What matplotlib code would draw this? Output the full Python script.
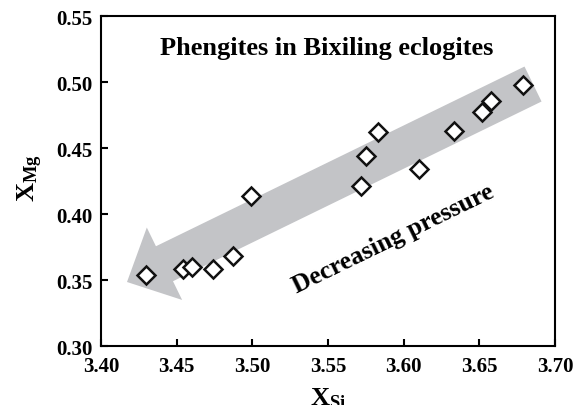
import numpy as np
import matplotlib
matplotlib.use("Agg")
import matplotlib.pyplot as plt

plt.rcParams["font.family"] = ["Liberation Serif", "DejaVu Serif"]
plt.rcParams["font.weight"] = "bold"
plt.rcParams["mathtext.fontset"] = "custom"
plt.rcParams["mathtext.rm"] = "Liberation Serif:bold"
plt.rcParams["mathtext.bf"] = "Liberation Serif:bold"

# phengite compositions
x_si = [3.430, 3.454, 3.460, 3.474, 3.487, 3.499, 3.572, 3.575, 3.583,
        3.610, 3.633, 3.652, 3.658, 3.679]
x_mg = [0.354, 0.358, 0.360, 0.358, 0.368, 0.414, 0.421, 0.444, 0.462,
        0.434, 0.463, 0.477, 0.486, 0.498]

xticks = [3.40, 3.45, 3.50, 3.55, 3.60, 3.65, 3.70]
yticks = [0.30, 0.35, 0.40, 0.45, 0.50, 0.55]

fig = plt.figure(figsize=(5.79, 4.06), dpi=100)
ax = fig.add_axes([0.1744, 0.1453, 0.7841, 0.8127])

# big grey trend arrow (tail upper right, head lower left)
ax.annotate("", xy=(3.4172, 0.3485), xytext=(3.6855, 0.4985),
            arrowprops=dict(arrowstyle="simple,head_length=3.0,head_width=5.8,tail_width=2.8",
                            mutation_scale=10, fc="#c3c4c7", ec="none",
                            shrinkA=0, shrinkB=0), zorder=1)

ax.plot(x_si, x_mg, ls="none", marker="D", ms=9.5, mfc="white", mec="#111111",
        mew=1.8, zorder=3)

ax.set_xlim(3.40, 3.70)
ax.set_ylim(0.30, 0.55)
ax.set_xticks(xticks)
ax.set_yticks(yticks)
ax.set_xticklabels(["%.2f" % t for t in xticks])
ax.set_yticklabels(["%.2f" % t for t in yticks])
ax.tick_params(direction="in", length=5, width=1.5, labelsize=15,
               top=False, right=False)
ax.tick_params(axis="x", pad=7)
ax.tick_params(axis="y", pad=6)
for s in ax.spines.values():
    s.set_linewidth(1.5)

ax.text(0.497, 0.885, "Phengites in Bixiling eclogites", transform=ax.transAxes,
        ha="center", va="baseline", fontsize=19, fontweight="bold")
ax.text(3.593, 0.382, "Decreasing pressure", rotation=26, ha="center",
        va="center", fontsize=18.5, fontweight="bold")

ax.set_xlabel(r"$\mathrm{X_{Si}}$", fontsize=19)
ax.set_ylabel(r"$\mathrm{X_{Mg}}$", fontsize=19)
ax.xaxis.set_label_coords(0.50, -0.118)
ax.yaxis.set_label_coords(-0.124, 0.512)

fig.savefig("out.png", dpi=100)
